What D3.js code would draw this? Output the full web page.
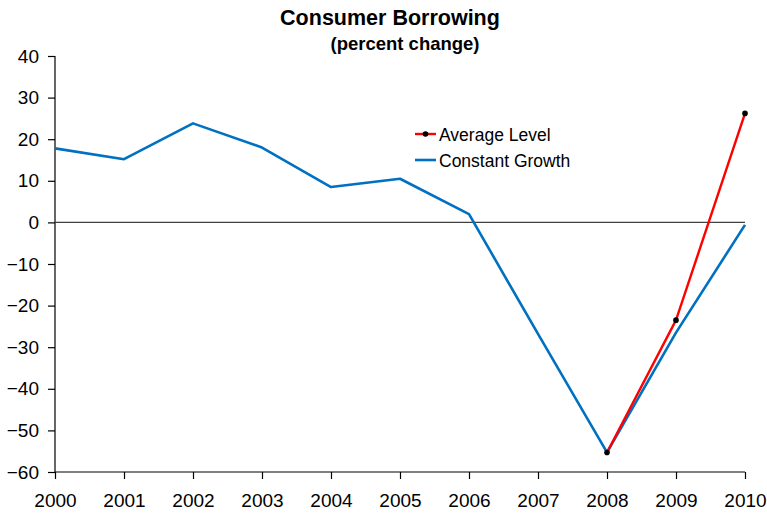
<!DOCTYPE html>
<html>
<head>
<meta charset="utf-8">
<script src="https://cdn.jsdelivr.net/npm/d3@7"></script>
<style>
  html, body { margin: 0; padding: 0; background: #fff; }
  svg { display: block; font-family: "Liberation Sans", Arial, sans-serif; }
</style>
</head>
<body>
<svg id="chart" width="767" height="514"></svg>
<script>
// Consumer borrowing, percent change by year
const years = [2000, 2001, 2002, 2003, 2004, 2005, 2006, 2007, 2008, 2009, 2010];
const constantGrowth = [17.8, 15.2, 23.8, 18.0, 8.5, 10.5, 2.0, -26.8, -55.3, -26.5, -0.6];
const averageLevelYears = [2008, 2009, 2010];
const averageLevel = [-55.3, -23.5, 26.2];
const yTicks = [40, 30, 20, 10, 0, -10, -20, -30, -40, -50, -60];

const svg = d3.select("#chart");
const margin = { left: 55, right: 22, top: 56, bottom: 42 };
const W = 767, H = 514;
const FONT = "Liberation Sans, Arial, sans-serif";

const x = d3.scaleLinear().domain([2000, 2010]).range([margin.left, W - margin.right]);
const y = d3.scaleLinear().domain([-60, 40]).range([H - margin.bottom, margin.top]);

// Title
svg.append("text")
  .attr("x", 390).attr("y", 25)
  .attr("text-anchor", "middle")
  .attr("font-weight", "bold").attr("font-size", 21.5)
  .text("Consumer Borrowing");
svg.append("text")
  .attr("x", 405).attr("y", 50)
  .attr("text-anchor", "middle")
  .attr("font-weight", "bold").attr("font-size", 18.5)
  .text("(percent change)");

// Y axis
const yAxis = svg.append("g")
  .attr("transform", `translate(${margin.left},0)`)
  .call(d3.axisLeft(y).tickValues(yTicks).tickSize(7).tickPadding(9).tickFormat(d3.format("d")));
yAxis.selectAll("text").attr("font-size", 19).attr("fill", "#000").attr("font-family", FONT);
yAxis.selectAll("line, path").attr("stroke", "#000").attr("stroke-width", 1.2);
yAxis.select(".domain").attr("d", `M0,${y(40)}V${y(-60)}`);

// X axis
const xAxis = svg.append("g")
  .attr("transform", `translate(0,${y(-60)})`)
  .call(d3.axisBottom(x).tickValues(years).tickSize(7).tickPadding(15).tickFormat(d3.format("d")));
xAxis.selectAll("text").attr("font-size", 19).attr("fill", "#000").attr("font-family", FONT);
xAxis.selectAll("line, path").attr("stroke", "#000").attr("stroke-width", 1.2);
xAxis.select(".domain").attr("d", `M${x(2000)},0H${x(2010)}`);

// Zero line
svg.append("line")
  .attr("x1", x(2000)).attr("x2", x(2010))
  .attr("y1", y(0)).attr("y2", y(0))
  .attr("stroke", "#404040").attr("stroke-width", 1.2);

const line = d3.line().x(d => x(d[0])).y(d => y(d[1]));

// Constant growth series
svg.append("path")
  .datum(years.map((yr, i) => [yr, constantGrowth[i]]))
  .attr("d", line)
  .attr("fill", "none").attr("stroke", "#0070C0").attr("stroke-width", 2.6)
  .attr("stroke-linejoin", "round");

// Average level series
const avgData = averageLevelYears.map((yr, i) => [yr, averageLevel[i]]);
svg.append("path")
  .datum(avgData)
  .attr("d", line)
  .attr("fill", "none").attr("stroke", "#FF0000").attr("stroke-width", 2.4)
  .attr("stroke-linejoin", "round");
svg.selectAll("circle.avg")
  .data(avgData)
  .enter().append("circle")
  .attr("class", "avg")
  .attr("cx", d => x(d[0])).attr("cy", d => y(d[1]))
  .attr("r", 2.8).attr("fill", "#000");

// Legend
const legend = svg.append("g").attr("transform", "translate(415,134)");
legend.append("line").attr("x1", 0).attr("x2", 21).attr("y1", 0).attr("y2", 0)
  .attr("stroke", "#FF0000").attr("stroke-width", 2.4);
legend.append("circle").attr("cx", 10.5).attr("cy", 0).attr("r", 2.8).attr("fill", "#000");
legend.append("text").attr("x", 24).attr("y", 6.5).attr("font-size", 17.5).text("Average Level");
legend.append("line").attr("x1", 0).attr("x2", 21).attr("y1", 26).attr("y2", 26)
  .attr("stroke", "#0070C0").attr("stroke-width", 2.6);
legend.append("text").attr("x", 24).attr("y", 32.5).attr("font-size", 17.5).text("Constant Growth");
</script>
</body>
</html>
